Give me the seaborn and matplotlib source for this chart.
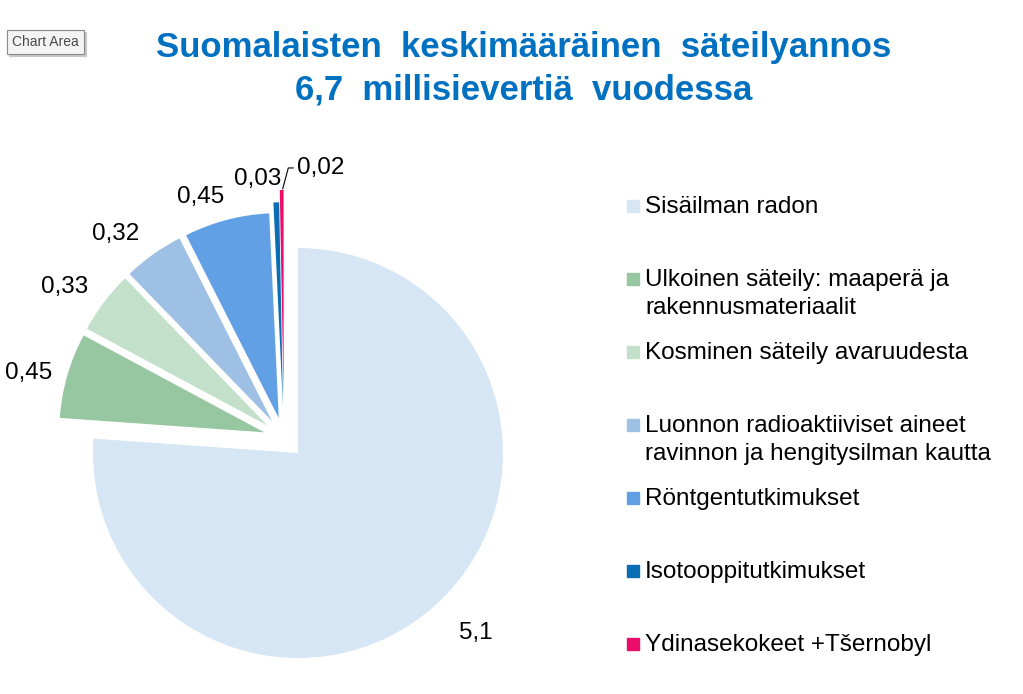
import numpy as np
import matplotlib
matplotlib.use("Agg")
import matplotlib.pyplot as plt
from matplotlib.patches import Rectangle
import seaborn as sns

# data
categories = ["Sisäilman radon",
              "Ulkoinen säteily: maaperä ja\nrakennusmateriaalit",
              "Kosminen säteily avaruudesta",
              "Luonnon radioaktiiviset aineet\nravinnon ja hengitysilman kautta",
              "Röntgentutkimukset",
              "Isotooppitutkimukset",
              "Ydinasekokeet +Tšernobyl"]
values = [5.1, 0.45, 0.33, 0.32, 0.45, 0.03, 0.02]
value_labels = ["5,1", "0,45", "0,33", "0,32", "0,45", "0,03", "0,02"]
colors = ["#D6E6F4", "#96C7A1", "#C3E0CB", "#9FC0E5", "#62A0E6", "#0A6EB4", "#EC0C6C"]

sns.set_style("white")
plt.rcParams['font.family'] = ['Liberation Sans', 'DejaVu Sans']

W, H = 1023, 694
r_px, cx, cy = 205, 284, 438   # pie centre and radius in pixels
fig = plt.figure(figsize=(W / 100, H / 100), dpi=100)
ax = fig.add_axes([0, 0, 1, 1])

# pie, exploded, clockwise from 12 o'clock
explode = [0.1, 0.1, 0.1, 0.1, 0.1, 0.15, 0.21]
wedges, texts = ax.pie(values, colors=colors, labels=value_labels,
                       explode=explode, startangle=90,
                       counterclock=False, labeldistance=1.19,
                       wedgeprops=dict(linewidth=0),
                       textprops=dict(fontsize=17.5, color="black"))

# excel-like label nudges (pixels)
nudges = [(12, -2), (-1, -8), (-8, -8), (-15, -11), (-16, -15), (-17, -16), (0, 0)]
for t, (dx, dy) in zip(texts, nudges):
    t.set_ha("center")
    t.set_va("center")
    x, y = t.get_position()
    t.set_position((x + dx / r_px, y + dy / r_px))

# 0,02 pulled out with a leader line
w = wedges[6]
mid = np.deg2rad((w.theta1 + w.theta2) / 2)
tip = (w.center[0] + np.cos(mid), w.center[1] + np.sin(mid))
texts[6].set_visible(False)
ax.annotate(value_labels[6], xy=(tip[0] + 1 / r_px, tip[1] + 1 / r_px),
            xytext=(tip[0] + 15 / r_px, tip[1] + 22 / r_px),
            fontsize=17.5, ha="left", va="center", color="black",
            arrowprops=dict(arrowstyle="-", color="black", lw=0.8,
                            shrinkA=0, shrinkB=0, relpos=(0, 0.5),
                            connectionstyle="angle,angleA=180,angleB=75,rad=0"))

ax.set_xlim(-cx / r_px, (W - cx) / r_px)
ax.set_ylim(-(H - cy) / r_px, cy / r_px)
ax.set_aspect("auto")
ax.axis("off")

# title
fig.text(524 / W, 1 - 47 / H, "Suomalaisten  keskimääräinen  säteilyannos",
         ha="center", va="center", fontsize=25, fontweight="bold", color="#0070C0")
fig.text(524 / W, 1 - 90 / H, "6,7  millisievertiä  vuodessa",
         ha="center", va="center", fontsize=25, fontweight="bold", color="#0070C0")

# Excel tooltip box with shadow
fig.text(14 / W, 1 - 44 / H, "Chart Area", ha="left", va="center", fontsize=10,
         color="#B8B8B8",
         bbox=dict(boxstyle="square,pad=0.35", fc="#C8C8C8", ec="#C8C8C8", lw=0.8))
fig.text(12 / W, 1 - 42 / H, "Chart Area", ha="left", va="center", fontsize=10,
         color="#4A4A4A",
         bbox=dict(boxstyle="square,pad=0.35", fc="#F4F4F4", ec="#8A8A8A", lw=0.8))

# legend
for i, (lab, col) in enumerate(zip(categories, colors)):
    y0 = 206 + 73 * i
    fig.patches.append(Rectangle((627 / W, 1 - (y0 + 6) / H), 12 / W, 12 / H,
                                 transform=fig.transFigure, color=col))
    for j, line in enumerate(lab.split("\n")):
        fig.text(645 / W, 1 - (y0 + 1 + 28 * j) / H, line, ha="left", va="center",
                 fontsize=17.5, color="black")

fig.savefig("out.png", dpi=100)
